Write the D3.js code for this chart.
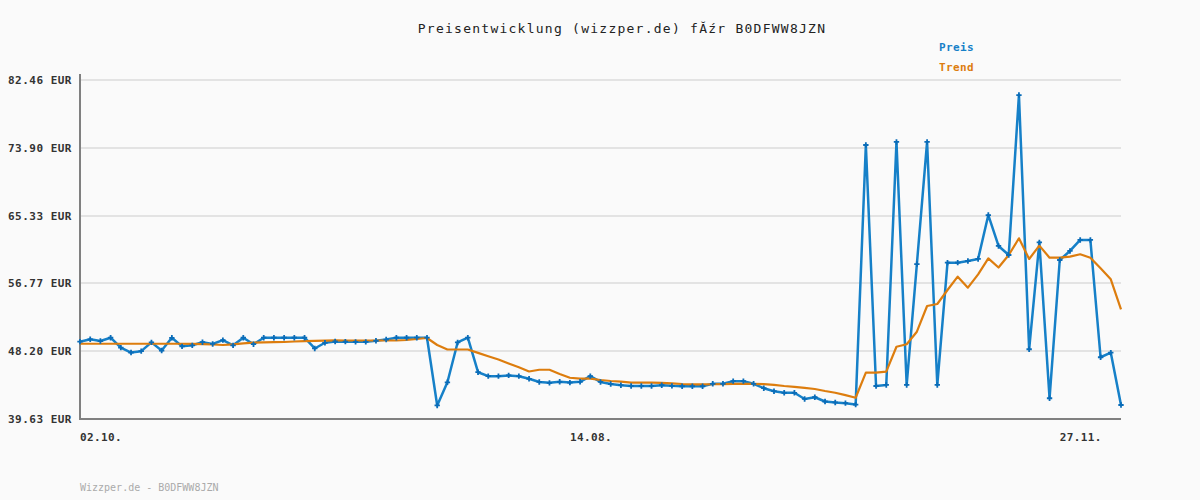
<!DOCTYPE html>
<html><head><meta charset="utf-8">
<script src="https://cdn.jsdelivr.net/npm/d3@7"></script>
<style>
html,body{margin:0;padding:0;background:#fafafa;}
svg{display:block;}
text{font-family:"DejaVu Sans Mono","Liberation Mono",monospace;}
</style></head>
<body>
<svg id="chart" width="1200" height="500"></svg>
<script>
const titleText = "Preisentwicklung (wizzper.de) fĂźr B0DFWW8JZN";
const footerText = "Wizzper.de - B0DFWW8JZN";
const seriesNames = ["Preis", "Trend"];
const yTicks = [39.63, 48.20, 56.77, 65.33, 73.90, 82.46];
const yTickLabels = ["39.63 EUR", "48.20 EUR", "56.77 EUR", "65.33 EUR", "73.90 EUR", "82.46 EUR"];
const xTickIndex = [0, 48, 96];
const xTickLabels = ["02.10.", "14.08.", "27.11."];

const preis = [
  49.40, 49.70, 49.48, 49.90, 48.64, 48.03, 48.20, 49.31, 48.28, 49.89,
  48.81, 48.94, 49.33, 49.11, 49.59, 48.94, 49.90, 49.08, 49.90, 49.90,
  49.90, 49.90, 49.90, 48.54, 49.26, 49.42, 49.40, 49.38, 49.38, 49.51,
  49.67, 49.90, 49.90, 49.90, 49.90, 41.34, 44.27, 49.30, 49.90, 45.54,
  45.04, 45.04, 45.14, 45.04, 44.71, 44.31, 44.20, 44.33, 44.23, 44.33,
  45.04, 44.31, 44.05, 43.90, 43.80, 43.80, 43.80, 43.90, 43.82, 43.77,
  43.77, 43.77, 44.08, 44.08, 44.41, 44.41, 44.08, 43.52, 43.14, 42.94,
  42.94, 42.16, 42.38, 41.84, 41.72, 41.63, 41.45, 74.25, 43.80, 43.93,
  74.63, 43.93, 59.21, 74.63, 43.93, 59.38, 59.38, 59.59, 59.85, 65.40,
  61.49, 60.35, 80.56, 48.44, 61.95, 42.25, 59.72, 60.86, 62.25, 62.25,
  47.43, 48.01, 41.40
];
const trend = [
  49.14, 49.14, 49.14, 49.14, 49.14, 49.14, 49.14, 49.14, 49.14, 49.14,
  49.14, 49.12, 49.10, 49.04, 48.98, 49.07, 49.19, 49.27, 49.32, 49.33,
  49.36, 49.42, 49.48, 49.51, 49.53, 49.57, 49.55, 49.55, 49.55, 49.55,
  49.55, 49.55, 49.61, 49.74, 49.86, 48.98, 48.41, 48.41, 48.41, 47.99,
  47.56, 47.15, 46.64, 46.16, 45.63, 45.85, 45.85, 45.32, 44.84, 44.72,
  44.74, 44.56, 44.43, 44.34, 44.22, 44.22, 44.22, 44.20, 44.14, 44.05,
  44.01, 44.01, 44.02, 44.04, 44.06, 44.08, 44.08, 44.03, 43.93, 43.80,
  43.70, 43.57, 43.42, 43.17, 42.95, 42.64, 42.31, 45.48, 45.48, 45.61,
  48.76, 49.07, 50.66, 53.91, 54.16, 55.93, 57.61, 56.22, 57.91, 59.93,
  58.77, 60.35, 62.46, 59.85, 61.53, 60.01, 60.01, 60.14, 60.44, 60.01,
  58.67, 57.28, 53.49
];

const svg = d3.select("#chart");
const plotLeft = 80, plotRight = 1121, plotTop = 80, plotBottom = 419;
const blue = "#1680c8", blueDark = "#0a6cb8", orange = "#dd7d0e";

const x = d3.scaleLinear().domain([0, preis.length - 1]).range([plotLeft, plotRight]);
const y = d3.scaleLinear().domain([yTicks[0], yTicks[yTicks.length - 1]]).range([plotBottom, plotTop]);

svg.append("rect").attr("width", 1200).attr("height", 500).attr("fill", "#fafafa");

svg.append("g").selectAll("line").data(yTicks).join("line")
  .attr("x1", plotLeft).attr("x2", plotRight)
  .attr("y1", d => Math.round(y(d))).attr("y2", d => Math.round(y(d)))
  .attr("stroke", "#e3e3e3").attr("stroke-width", 2);

svg.append("g").selectAll("text").data(yTicks).join("text")
  .attr("x", 72).attr("y", d => y(d) + 4)
  .attr("text-anchor", "end")
  .attr("font-size", 11).attr("font-weight", "bold")
  .attr("letter-spacing", 0.5)
  .attr("fill", "#333")
  .text((d, i) => yTickLabels[i]);

svg.append("g").selectAll("text").data(xTickIndex).join("text")
  .attr("x", d => x(d)).attr("y", 441)
  .attr("font-size", 11).attr("font-weight", "bold")
  .attr("letter-spacing", 0.4)
  .attr("fill", "#333")
  .text((d, i) => xTickLabels[i]);

svg.append("line").attr("x1", plotLeft).attr("x2", plotLeft).attr("y1", 74).attr("y2", plotBottom + 1)
  .attr("stroke", "#808080").attr("stroke-width", 2);
svg.append("line").attr("x1", plotLeft - 1).attr("x2", plotRight).attr("y1", plotBottom).attr("y2", plotBottom)
  .attr("stroke", "#808080").attr("stroke-width", 2);

const line = d3.line().x((d, i) => x(i)).y(d => y(d));
svg.append("path").datum(preis).attr("d", line)
  .attr("fill", "none").attr("stroke", blue).attr("stroke-width", 2.5)
  .attr("stroke-linejoin", "round");
svg.append("path").datum(trend).attr("d", line)
  .attr("fill", "none").attr("stroke", orange).attr("stroke-width", 2.2)
  .attr("stroke-linejoin", "round");

const cross = d3.symbol().type(d3.symbolCross).size(16);
svg.append("g").selectAll("path").data(preis).join("path")
  .attr("d", cross)
  .attr("transform", (d, i) => `translate(${x(i)},${y(d)})`)
  .attr("fill", blueDark);

svg.append("text").attr("x", 622).attr("y", 33)
  .attr("text-anchor", "middle")
  .attr("font-size", 13).attr("letter-spacing", 1.25)
  .attr("fill", "#222")
  .text(titleText);

const legendColors = [blue, orange];
svg.append("g").selectAll("text").data(seriesNames).join("text")
  .attr("x", 939).attr("y", (d, i) => 51 + i * 20)
  .attr("font-size", 11).attr("font-weight", "bold")
  .attr("letter-spacing", 0.4)
  .attr("fill", (d, i) => legendColors[i])
  .text(d => d);

svg.append("text").attr("x", 80).attr("y", 491)
  .attr("font-size", 10).attr("fill", "#aaa")
  .text(footerText);
</script>
</body></html>
